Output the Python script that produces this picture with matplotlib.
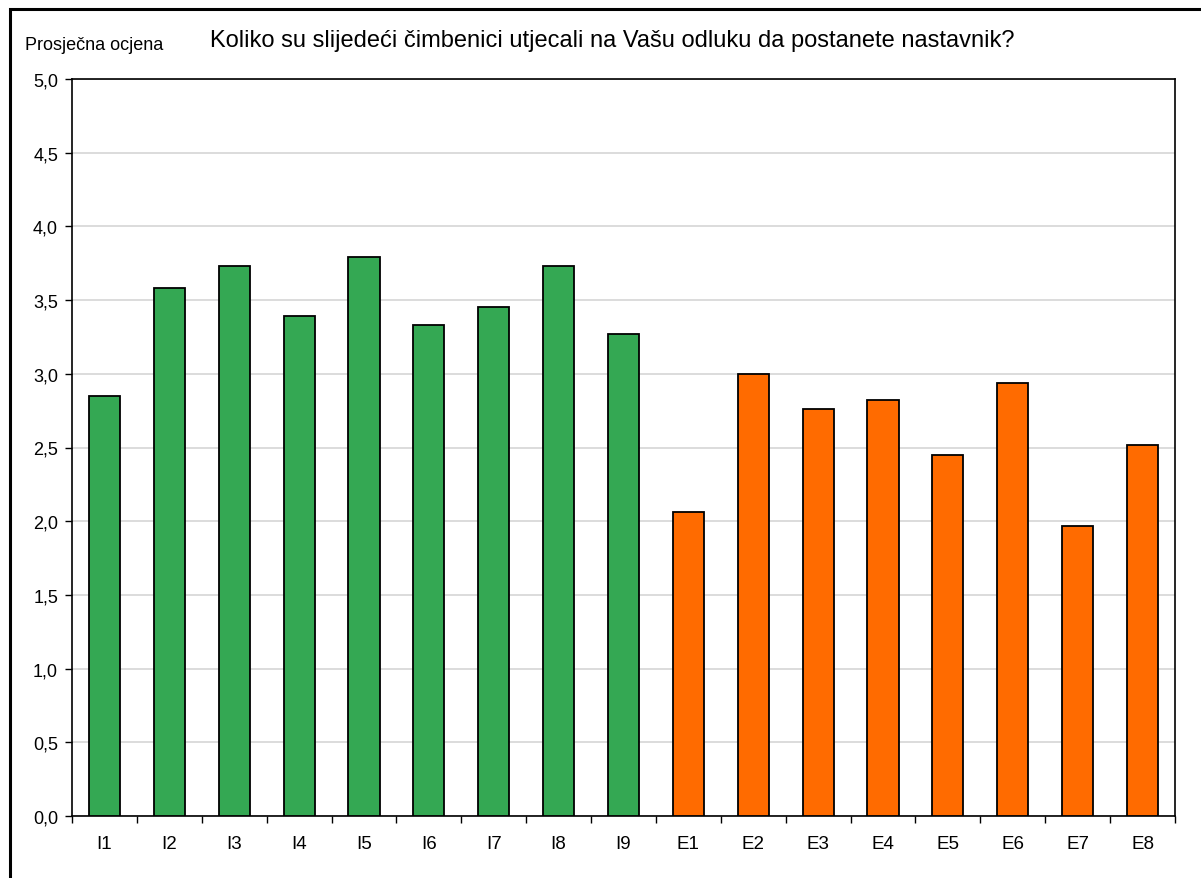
import numpy as np
import matplotlib.pyplot as plt
from matplotlib.patches import Rectangle

plt.rcParams['font.family'] = ['Liberation Sans', 'DejaVu Sans']

categories = ["I1", "I2", "I3", "I4", "I5", "I6", "I7", "I8", "I9",
              "E1", "E2", "E3", "E4", "E5", "E6", "E7", "E8"]
values = [2.85, 3.58, 3.73, 3.39, 3.79, 3.33, 3.45, 3.73, 3.27,
          2.06, 3.00, 2.76, 2.82, 2.45, 2.94, 1.97, 2.52]
groups = ["I"] * 9 + ["E"] * 8
group_colors = {"I": "#34A853", "E": "#FF6B00"}

W, H = 1201, 879
fig = plt.figure(figsize=(W / 100, H / 100), dpi=100)
ax = fig.add_axes([72 / W, 1 - 817 / H, (1175 - 72) / W, (817 - 80) / H])

# outer frame of the chart (cropped on right/bottom)
fig.patches.append(Rectangle((10 / W, -0.05), 1.2, 1 - 10 / H + 0.05,
                             transform=fig.transFigure, fill=False,
                             edgecolor="black", linewidth=2.2))

x = np.arange(len(categories))
colors = [group_colors[g] for g in groups]
ax.bar(x, values, width=0.48, color=colors, edgecolor="black", linewidth=1.3, zorder=3)

ax.set_xlim(-0.5, len(categories) - 0.5)
ax.set_ylim(0, 5)
ax.set_yticks(np.arange(0, 5.01, 0.5))
ax.set_yticklabels([f"{v:.1f}".replace(".", ",") for v in np.arange(0, 5.01, 0.5)])
ax.set_xticks(x)
ax.set_xticklabels(categories)
ax.set_xticks(np.arange(-0.5, len(categories), 1), minor=True)
ax.tick_params(axis="x", which="major", length=0, pad=14, labelsize=13.5)
ax.tick_params(axis="x", which="minor", length=5, direction="out", width=1)
ax.tick_params(axis="y", length=5, direction="out", width=1, pad=5, labelsize=13)

ax.grid(axis="y", color="#d9d9d9", linewidth=1.3, zorder=0)
for s in ax.spines.values():
    s.set_linewidth(1.2)
    s.set_color("black")

fig.text(25 / W, 1 - 46 / H, "Prosječna ocjena", fontsize=13, va="center", ha="left")
fig.text(612 / W, 1 - 41 / H, "Koliko su slijedeći čimbenici utjecali na Vašu odluku da postanete nastavnik?",
         fontsize=17, va="center", ha="center")

fig.savefig("out.png", dpi=100, facecolor="white")
